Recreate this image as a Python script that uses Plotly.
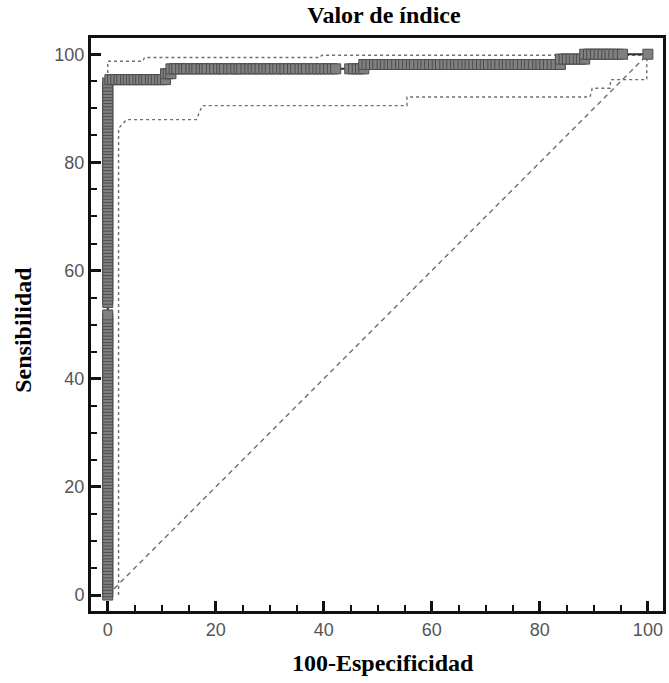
import plotly.graph_objects as go

# ROC curve: sensitivity values reached while 100-specificity is still 0
zero_fpr_sens = [
    0.0, 0.6, 1.2, 1.8, 2.4, 2.9, 3.5, 4.1, 4.7, 5.3, 5.9, 6.5, 7.1, 7.6, 8.2,
    8.8, 9.4, 10.0, 10.6, 11.2, 11.8, 12.4, 12.9, 13.5, 14.1, 14.7, 15.3, 15.9,
    16.5, 17.1, 17.6, 18.2, 18.8, 19.4, 20.0, 20.6, 21.2, 21.8, 22.4, 22.9,
    23.5, 24.1, 24.7, 25.3, 25.9, 26.5, 27.1, 27.6, 28.2, 28.8, 29.4, 30.0,
    30.6, 31.2, 31.8, 32.4, 32.9, 33.5, 34.1, 34.7, 35.3, 35.9, 36.5, 37.1,
    37.6, 38.2, 38.8, 39.4, 40.0, 40.6, 41.2, 41.8, 42.4, 42.9, 43.5, 44.1,
    44.7, 45.3, 45.9, 46.5, 47.1, 47.6, 48.2, 48.8, 49.4, 50.0, 50.6, 51.2,
    51.8, 54.1, 54.7, 55.3, 55.9, 56.5, 57.1, 57.6, 58.2, 58.8, 59.4, 60.0,
    60.6, 61.2, 61.8, 62.4, 62.9, 63.5, 64.1, 64.7, 65.3, 65.9, 66.5, 67.1,
    67.6, 68.2, 68.8, 69.4, 70.0, 70.6, 71.2, 71.8, 72.4, 72.9, 73.5, 74.1,
    74.7, 75.3, 75.9, 76.5, 77.1, 77.6, 78.2, 78.8, 79.4, 80.0, 80.6, 81.2,
    81.8, 82.4, 82.9, 83.5, 84.1, 84.7, 85.3, 85.9, 86.5, 87.1, 87.6, 88.2,
    88.8, 89.4, 90.0, 90.6, 91.2, 91.8, 92.4, 92.9, 93.5, 94.1, 94.7,
]

# Horizontal runs of the ROC curve: (sensitivity level, 100-specificity values)
run_953_fpr = [0.4, 0.9, 1.5, 2.1, 2.6, 3.3, 3.8, 4.4, 4.9, 5.6, 6.1, 6.7, 7.2,
               7.9, 8.4, 9.0, 9.6, 10.1, 10.7]
run_964_fpr = [10.7, 11.2, 11.7]
run_973_fpr = [11.7, 12.3, 12.8, 13.5, 14.1, 14.6, 15.4, 16.0, 16.5, 17.3,
               17.9, 18.4, 19.2, 19.8, 20.5, 21.1, 21.6, 22.4, 23.0, 23.7,
               24.3, 24.8, 25.6, 26.3, 26.9, 27.5, 28.2, 28.9, 29.5, 30.1,
               30.9, 31.5, 32.2, 32.8, 33.5, 34.2, 34.8, 35.6, 36.2, 36.8,
               37.6, 38.2, 38.9, 39.5, 40.2, 40.9, 41.6, 42.2, 44.8, 45.5,
               46.2, 46.8, 47.4]
run_981_fpr = [47.4, 48.0, 48.7, 49.4, 50.0, 50.8, 51.4, 52.1, 52.7, 53.5,
               54.2, 54.8, 55.5, 56.2, 56.8, 57.6, 58.3, 58.9, 59.6, 60.3,
               61.0, 61.6, 62.4, 63.0, 63.7, 64.4, 65.0, 65.8, 66.5, 67.1,
               67.8, 68.5, 69.2, 69.9, 70.5, 71.3, 71.9, 72.6, 73.4, 74.0,
               74.7, 75.4, 76.0, 76.8, 77.5, 78.1, 78.8, 79.6, 80.2, 80.9,
               81.6, 82.3, 83.0, 83.8]
run_991_fpr = [83.8, 84.5, 85.1, 85.8, 86.4, 87.1, 87.7, 88.3]
run_100_fpr = [88.3, 89.0, 89.6, 90.3, 91.0, 91.7, 92.4, 93.0, 93.7, 94.5,
               95.3, 100.0]

run_levels = [95.3, 96.4, 97.3, 98.1, 99.1, 100.0]
run_fprs = [run_953_fpr, run_964_fpr, run_973_fpr, run_981_fpr, run_991_fpr,
            run_100_fpr]

# 95% confidence bounds of the curve
lower_ci_x = [2.0, 2.0, 3.5, 16.4, 17.5, 55.4, 55.4, 89.3, 89.7, 93.0, 93.1,
              99.8, 99.8, 100.0]
lower_ci_y = [0.0, 86.3, 87.9, 87.9, 90.5, 90.5, 92.1, 92.1, 93.7, 93.7, 95.3,
              95.3, 98.9, 100.0]
upper_ci_x = [0.0, 0.0, 6.5, 6.8, 39.4, 39.6, 100.0, 100.0]
upper_ci_y = [0.0, 98.7, 98.7, 99.4, 99.4, 99.8, 99.8, 100.0]

# Chance line
chance_x = [0, 100]
chance_y = [0, 100]

x_ticks = [0, 20, 40, 60, 80, 100]
y_ticks = [0, 20, 40, 60, 80, 100]

# Assemble the stepwise curve
roc_x = [0.0 for _ in zero_fpr_sens]
roc_y = list(zero_fpr_sens)
for level, xs in zip(run_levels, run_fprs):
    roc_x += xs
    roc_y += [level for _ in xs]

fig = go.Figure()

fig.add_trace(go.Scatter(
    x=chance_x, y=chance_y, mode="lines",
    line=dict(color="#6e6e6e", width=1.4, dash="5px,4px"),
    hoverinfo="skip", showlegend=False,
))
fig.add_trace(go.Scatter(
    x=lower_ci_x, y=lower_ci_y, mode="lines",
    line=dict(color="#6e6e6e", width=1.4, dash="3px,3px"),
    hoverinfo="skip", showlegend=False,
))
fig.add_trace(go.Scatter(
    x=upper_ci_x, y=upper_ci_y, mode="lines",
    line=dict(color="#6e6e6e", width=1.4, dash="3px,3px"),
    hoverinfo="skip", showlegend=False,
))
fig.add_trace(go.Scatter(
    x=roc_x, y=roc_y, mode="lines+markers",
    line=dict(color="#2e2e2e", width=2),
    marker=dict(symbol="square", size=10, color="#808080",
                line=dict(color="#4d4d4d", width=1)),
    showlegend=False,
))

axis_common = dict(
    showline=True, linewidth=3, linecolor="#111111", mirror=True,
    showgrid=False, zeroline=False,
    ticks="inside", ticklen=10, tickwidth=2.5, tickcolor="#111111",
    tickfont=dict(family="Liberation Sans, Arial, sans-serif", size=18,
                  color="#555555"),
    minor=dict(dtick=5, ticks="inside", ticklen=6, tickwidth=2,
               tickcolor="#111111", showgrid=False),
)

fig.update_xaxes(range=[-3.1, 102.8], tickvals=x_ticks, **axis_common)
fig.update_yaxes(range=[-2.95, 103.0], tickvals=y_ticks, **axis_common)

serif_bold = dict(family="Liberation Serif, Times New Roman, serif", size=24,
                  color="#000000", weight="bold")

fig.update_layout(
    width=669, height=683,
    margin=dict(l=91, r=3, t=38, b=72, pad=0),
    plot_bgcolor="white", paper_bgcolor="white",
    title=dict(text="Valor de índice", font=serif_bold,
               x=0.574, xref="container", xanchor="center",
               y=1 - 15 / 683, yref="container", yanchor="middle"),
    annotations=[
        dict(text="100-Especificidad", font=serif_bold,
             x=0.51, y=-0.09, xref="paper", yref="paper",
             xanchor="center", yanchor="middle", showarrow=False),
        dict(text="Sensibilidad", font=serif_bold, textangle=-90,
             x=-0.118, y=0.49, xref="paper", yref="paper",
             xanchor="center", yanchor="middle", showarrow=False),
    ],
)

fig.write_html("out.html")
